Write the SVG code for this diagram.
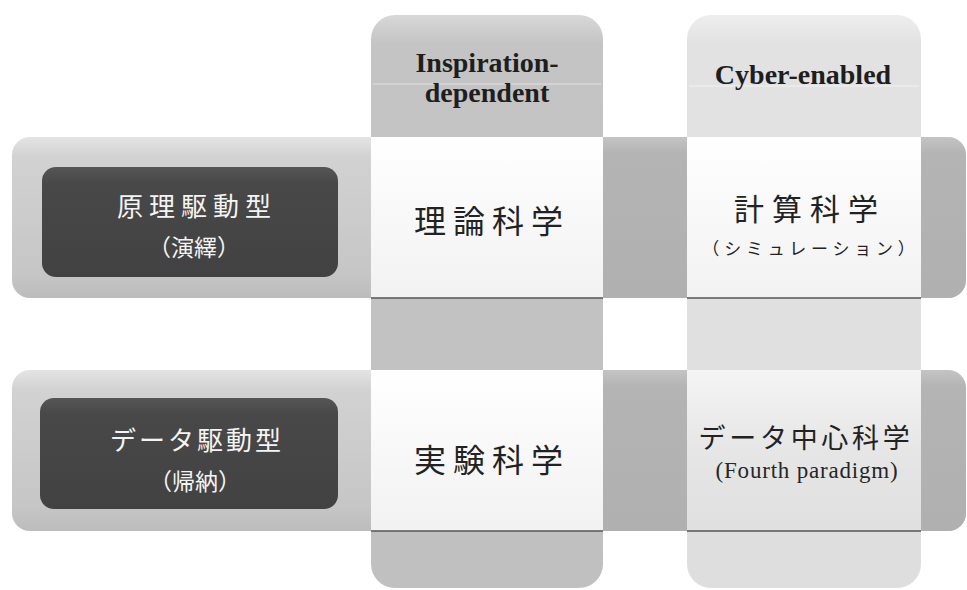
<svg xmlns="http://www.w3.org/2000/svg" width="967" height="590" viewBox="0 0 967 590">
  <style>
    .hdr { font-family: "Liberation Serif", "Times New Roman", serif; font-weight: bold; font-size: 28px; fill: #1e1e1e; text-anchor: middle; }
    .lbl { font-family: "Noto Sans CJK JP", sans-serif; fill: #f4f4f4; text-anchor: middle; }
    .cjk { font-family: "Noto Sans CJK JP", sans-serif; fill: #222222; text-anchor: middle; }
    .ser { font-family: "Liberation Serif", "Times New Roman", serif; fill: #262626; text-anchor: middle; }
    .cellEdge { stroke: #555; stroke-width: 1.5; }
  </style>
  <defs>
    <linearGradient id="gBand" x1="0" y1="0" x2="0" y2="1">
      <stop offset="0" stop-color="#e4e4e4"/>
      <stop offset="0.12" stop-color="#d2d2d2"/>
      <stop offset="0.85" stop-color="#c6c6c6"/>
      <stop offset="1" stop-color="#bcbcbc"/>
    </linearGradient>
    <linearGradient id="gMid" x1="0" y1="0" x2="0" y2="1">
      <stop offset="0" stop-color="#c4c4c4"/>
      <stop offset="0.1" stop-color="#b4b4b4"/>
      <stop offset="1" stop-color="#b0b0b0"/>
    </linearGradient>
    <linearGradient id="gCol1" x1="0" y1="0" x2="0" y2="1">
      <stop offset="0" stop-color="#d8d8d8"/>
      <stop offset="0.05" stop-color="#c4c4c4"/>
      <stop offset="1" stop-color="#c0c0c0"/>
    </linearGradient>
    <linearGradient id="gCol2" x1="0" y1="0" x2="0" y2="1">
      <stop offset="0" stop-color="#eeeeee"/>
      <stop offset="0.05" stop-color="#e2e2e2"/>
      <stop offset="1" stop-color="#dedede"/>
    </linearGradient>
    <linearGradient id="gCell" x1="0" y1="0" x2="0" y2="1">
      <stop offset="0" stop-color="#ffffff"/>
      <stop offset="0.5" stop-color="#f8f8f8"/>
      <stop offset="1" stop-color="#f2f2f2"/>
    </linearGradient>
    <linearGradient id="gCellG" x1="0" y1="0" x2="0" y2="1">
      <stop offset="0" stop-color="#f4f4f4"/>
      <stop offset="0.5" stop-color="#e6e6e6"/>
      <stop offset="1" stop-color="#e0e0e0"/>
    </linearGradient>
    <linearGradient id="gDark" x1="0" y1="0" x2="0" y2="1">
      <stop offset="0" stop-color="#555555"/>
      <stop offset="0.15" stop-color="#484848"/>
      <stop offset="1" stop-color="#424242"/>
    </linearGradient>
  </defs>

  <!-- row bands -->
  <g id="band-principle">
    <rect x="12" y="137" width="954" height="161" rx="18" fill="url(#gBand)"/>
    <rect x="603" y="137" width="84" height="161" fill="url(#gMid)"/>
    <path d="M921 137 H948 A18 18 0 0 1 966 155 V280 A18 18 0 0 1 948 298 H921 Z" fill="url(#gMid)"/>
  </g>
  <g id="band-data">
    <rect x="12" y="370" width="954" height="161" rx="18" fill="url(#gBand)"/>
    <rect x="603" y="370" width="84" height="161" fill="url(#gMid)"/>
    <path d="M921 370 H948 A18 18 0 0 1 966 388 V513 A18 18 0 0 1 948 531 H921 Z" fill="url(#gMid)"/>
  </g>

  <!-- columns -->
  <g id="col-inspiration">
    <rect x="371" y="15" width="232" height="573" rx="24" fill="url(#gCol1)"/>
    <line x1="373" y1="84" x2="601" y2="84" stroke="#e2e2e2" stroke-width="1"/>
    <text class="hdr" x="487" y="72">Inspiration-</text>
    <text class="hdr" x="487" y="102">dependent</text>
  </g>
  <g id="col-cyber">
    <rect x="687" y="15" width="234" height="573" rx="24" fill="url(#gCol2)"/>
    <line x1="689" y1="86" x2="919" y2="86" stroke="#f2f2f2" stroke-width="1"/>
    <text class="hdr" x="803" y="84">Cyber-enabled</text>
  </g>

  <!-- row labels -->
  <g id="label-principle">
    <rect x="42" y="167" width="296" height="110" rx="14" fill="url(#gDark)"/>
    <text class="lbl" x="197" y="216" font-size="26" letter-spacing="6">原理駆動型</text>
    <text class="lbl" x="194" y="256" font-size="23">（演繹）</text>
  </g>
  <g id="label-data">
    <rect x="40" y="398" width="298" height="111" rx="14" fill="url(#gDark)"/>
    <text class="lbl" x="197" y="450" font-size="26" letter-spacing="3">データ駆動型</text>
    <text class="lbl" x="195" y="490" font-size="23">（帰納）</text>
  </g>

  <!-- cells -->
  <g id="cell-theory">
    <rect x="371" y="137" width="232" height="161" fill="url(#gCell)"/>
    <line class="cellEdge" x1="371" y1="298" x2="603" y2="298"/>
    <text class="cjk" x="492" y="233" font-size="32" letter-spacing="7">理論科学</text>
  </g>
  <g id="cell-simulation">
    <rect x="687" y="137" width="234" height="161" fill="url(#gCell)"/>
    <line class="cellEdge" x1="687" y1="298" x2="921" y2="298"/>
    <text class="cjk" x="810" y="220" font-size="30" letter-spacing="8">計算科学</text>
    <text class="cjk" x="811" y="255" font-size="17" letter-spacing="4.8">（シミュレーション）</text>
  </g>
  <g id="cell-experiment">
    <rect x="371" y="370" width="232" height="161" fill="url(#gCell)"/>
    <line class="cellEdge" x1="371" y1="531" x2="603" y2="531"/>
    <text class="cjk" x="492" y="472" font-size="32" letter-spacing="7">実験科学</text>
  </g>
  <g id="cell-datacentric">
    <rect x="687" y="370" width="234" height="161" fill="url(#gCellG)"/>
    <line class="cellEdge" x1="687" y1="531" x2="921" y2="531"/>
    <text class="cjk" x="806" y="448" font-size="27" letter-spacing="3.7">データ中心科学</text>
    <text class="ser" x="807" y="478" font-size="23" letter-spacing="0.8">(Fourth paradigm)</text>
  </g>
</svg>
